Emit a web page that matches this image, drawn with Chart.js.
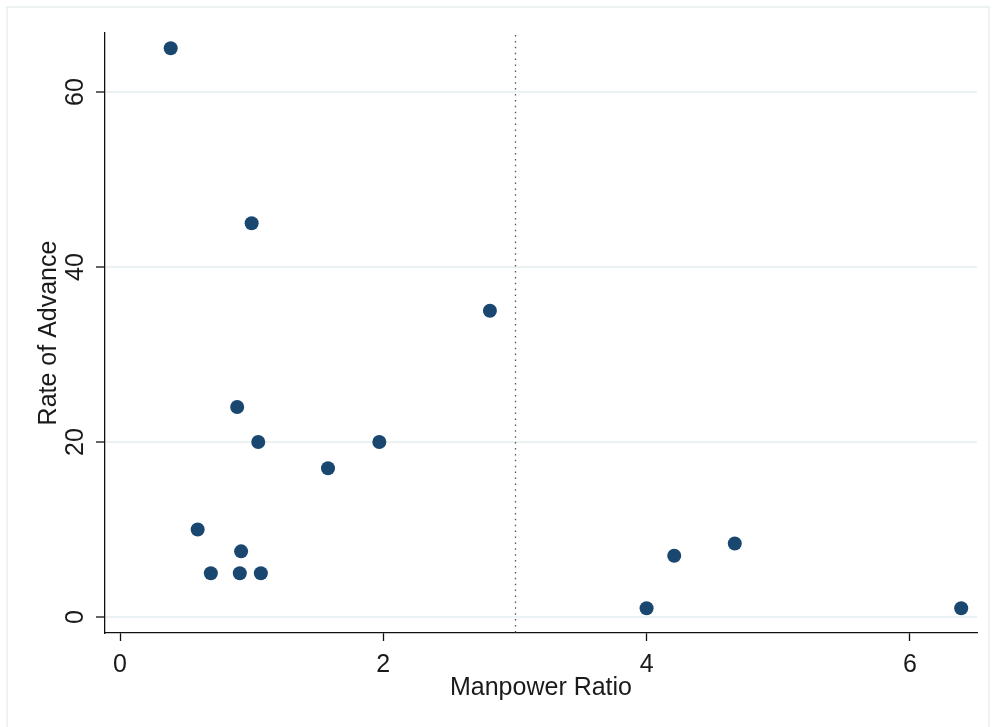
<!DOCTYPE html>
<html lang="en">
<head>
    <meta charset="UTF-8">
    <title>Rate of Advance vs Manpower Ratio</title>
    <script src="https://cdn.jsdelivr.net/npm/chart.js"></script>
    <style>
        body { margin: 0; background: #fff; }
    </style>
</head>
<body>
    <canvas id="scatterChart" width="996" height="727"></canvas>

    <script>
        // data
        const manpowerRatio = [0.385, 1.0, 2.81, 0.89, 1.05, 1.97, 1.58, 0.59, 0.92, 0.69, 0.91, 1.07, 4.0, 4.21, 4.67, 6.39];
        const rateOfAdvance = [65, 45, 35, 24, 20, 20, 17, 10, 7.5, 5, 5, 5, 1, 7, 8.4, 1];
        const xTicks = [0, 2, 4, 6];
        const yTicks = [0, 20, 40, 60];
        const cutoff = 3;

        const font = "'Liberation Sans', Arial, sans-serif";

        // light frame round the whole graph
        const framePlugin = {
            id: 'frame',
            beforeDraw(chart) {
                const ctx = chart.ctx;
                ctx.save();
                ctx.fillStyle = '#fff';
                ctx.fillRect(0, 0, chart.width, chart.height);
                ctx.strokeStyle = '#e7eeee';
                ctx.lineWidth = 1.5;
                ctx.beginPath();
                ctx.moveTo(7, chart.height);
                ctx.lineTo(7, 7);
                ctx.lineTo(989, 7);
                ctx.lineTo(989, chart.height);
                ctx.stroke();
                ctx.restore();
            }
        };

        // dotted vertical line at the cutoff ratio
        const cutoffPlugin = {
            id: 'cutoff',
            beforeDatasetsDraw(chart) {
                const ctx = chart.ctx;
                const area = chart.chartArea;
                const x = Math.round(chart.scales.x.getPixelForValue(cutoff)) + 0.5;
                ctx.save();
                ctx.strokeStyle = '#555';
                ctx.lineWidth = 1.3;
                ctx.setLineDash([1.5, 4.4]);
                ctx.beginPath();
                ctx.moveTo(x, area.top + 2);
                ctx.lineTo(x, area.bottom);
                ctx.stroke();
                ctx.restore();
            }
        };

        const points = manpowerRatio.map((v, i) => ({ x: v, y: rateOfAdvance[i] }));

        new Chart(document.getElementById('scatterChart'), {
            type: 'scatter',
            data: {
                datasets: [{
                    data: points,
                    backgroundColor: '#1a476f',
                    borderWidth: 0,
                    pointRadius: 7,
                    pointHoverRadius: 7
                }]
            },
            options: {
                responsive: false,
                animation: false,
                devicePixelRatio: 1,
                layout: { padding: { top: 33, right: 19, bottom: 0, left: 0 } },
                plugins: {
                    legend: { display: false },
                    tooltip: { enabled: false }
                },
                scales: {
                    x: {
                        type: 'linear',
                        min: -0.114,
                        max: 6.51,
                        afterBuildTicks: s => { s.ticks = xTicks.map(v => ({ value: v })); },
                        afterFit: s => { s.height = 94; },
                        border: { color: '#111', width: 1.3 },
                        grid: {
                            drawOnChartArea: false,
                            drawTicks: true,
                            tickLength: 8,
                            tickColor: '#111',
                            tickWidth: 1.3
                        },
                        ticks: {
                            color: '#1a1a1a',
                            font: { family: font, size: 25 },
                            padding: 9,
                            maxRotation: 0
                        },
                        title: {
                            display: true,
                            text: 'Manpower Ratio',
                            color: '#1a1a1a',
                            font: { family: font, size: 25 },
                            padding: { top: 0, bottom: 24 }
                        }
                    },
                    y: {
                        type: 'linear',
                        min: -1.83,
                        max: 66.74,
                        afterBuildTicks: s => { s.ticks = yTicks.map(v => ({ value: v })); },
                        afterFit: s => { s.width = 105; },
                        border: { color: '#111', width: 1.3 },
                        grid: {
                            color: '#eaf2f3',
                            lineWidth: 2,
                            drawTicks: true,
                            tickLength: 9,
                            tickColor: '#111',
                            tickWidth: 1.3
                        },
                        ticks: {
                            color: '#1a1a1a',
                            font: { family: font, size: 25 },
                            padding: 6,
                            minRotation: 90,
                            maxRotation: 90,
                            crossAlign: 'center'
                        },
                        title: {
                            display: true,
                            text: 'Rate of Advance',
                            color: '#1a1a1a',
                            font: { family: font, size: 25 },
                            padding: { top: 34, bottom: 0 }
                        }
                    }
                }
            },
            plugins: [framePlugin, cutoffPlugin]
        });
    </script>
</body>
</html>
